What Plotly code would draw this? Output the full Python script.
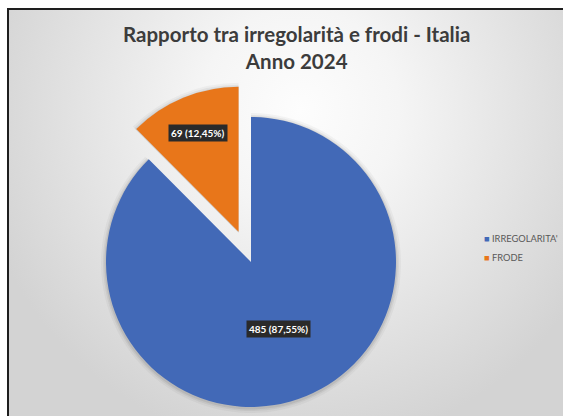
import math
import plotly.graph_objects as go

# ---- data ----
labels = ["IRREGOLARITA'", "FRODE"]
values = [485, 69]
percent_text = ["87,55%", "12,45%"]
colors = ["#4269B7", "#E8761A"]
title_lines = ["Rapporto tra irregolarità e frodi - Italia", "Anno 2024"]

W, H = 563, 416
pull = 0.225          # explode fraction of the FRODE slice
cx, cy, r = 251, 262, 145   # pie centre / radius in pixels (from top-left)

total = sum(values)
frac_frode = values[1] / total
bis = math.radians(360 * frac_frode / 2)   # half-angle of FRODE slice (left of 12 o'clock)

# exploded centre of FRODE slice along its bisector
ocx = cx - pull * r * math.sin(bis)
ocy = cy - pull * r * math.cos(bis)


def dom(cxp, cyp, rr=r):
    return dict(x=[(cxp - rr) / W, (cxp + rr) / W],
                y=[(H - cyp - rr) / H, (H - cyp + rr) / H])


fig = go.Figure()

# background gradient panel
fig.add_trace(go.Scatter(
    x=[-30, 630, 630, -30, -30], y=[-230, -230, 450, 450, -230],
    mode="none", fill="toself",
    fillgradient=dict(type="radial",
                      colorscale=[[0, "#fdfdfd"], [0.3, "#f5f5f5"], [1, "#d3d3d3"]]),
    hoverinfo="skip", showlegend=False))

# soft shadow halos
for extra, alpha in [(5, 0.035), (3, 0.05), (1.5, 0.07)]:
    fig.add_trace(go.Pie(
        labels=labels, values=values, sort=False, direction="clockwise", rotation=0,
        marker=dict(colors=[f"rgba(0,0,0,{alpha})", "rgba(0,0,0,0)"], line=dict(width=0)),
        textinfo="none", hoverinfo="skip", showlegend=False, domain=dom(cx, cy + 1, r + extra)))
    fig.add_trace(go.Pie(
        labels=labels, values=values, sort=False, direction="clockwise", rotation=0,
        marker=dict(colors=["rgba(0,0,0,0)", f"rgba(0,0,0,{alpha})"], line=dict(width=0)),
        textinfo="none", hoverinfo="skip", showlegend=False, domain=dom(ocx, ocy + 1, r + extra)))

# main pie (IRREGOLARITA')
fig.add_trace(go.Pie(
    labels=labels, values=values, sort=False, direction="clockwise", rotation=0,
    marker=dict(colors=[colors[0], "rgba(0,0,0,0)"], line=dict(width=0)),
    textinfo="none", hoverinfo="skip", showlegend=False, domain=dom(cx, cy)))

# exploded slice (FRODE)
fig.add_trace(go.Pie(
    labels=labels, values=values, sort=False, direction="clockwise", rotation=0,
    marker=dict(colors=["rgba(0,0,0,0)", colors[1]], line=dict(width=0)),
    textinfo="none", hoverinfo="skip", showlegend=False, domain=dom(ocx, ocy)))

# legend entries
for lab, col in zip(labels, colors):
    fig.add_trace(go.Scatter(
        x=[None], y=[None], mode="markers",
        marker=dict(size=1, color="rgba(0,0,0,0)"),
        name=f'<span style="color:{col}">■</span> {lab}', showlegend=True))

# data labels
ann = []
b_ang = math.radians(360 * (values[0] / total) / 2)
lx = cx + 0.5 * r * math.sin(b_ang)
ly = cy - 0.5 * r * math.cos(b_ang)
ann.append((lx, ly, f"{values[0]} ({percent_text[0]})"))
lx2 = ocx - 0.74 * r * math.sin(bis)
ly2 = ocy - 0.74 * r * math.cos(bis)
ann.append((lx2, ly2, f"{values[1]} ({percent_text[1]})"))

for x, y, t in ann:
    fig.add_annotation(x=x / W, y=1 - y / H, xref="paper", yref="paper",
                       xanchor="center", yanchor="middle",
                       text=f"<b>{t}</b>", showarrow=False,
                       font=dict(family="Lato", size=10, color="white"),
                       bgcolor="#2a2a2a", borderpad=2)

fig.update_layout(
    width=W, height=H, margin=dict(l=0, r=0, t=0, b=0, autoexpand=False),
    paper_bgcolor="white", plot_bgcolor="rgba(0,0,0,0)",
    title=dict(text="<b>" + title_lines[0] + "<br>" + title_lines[1] + "</b>",
               x=0.527, xanchor="center", y=1 - 42 / H, yanchor="middle",
               yref="container",
               font=dict(family="Lato", size=20.5, color="#3c3c3c")),
    xaxis=dict(domain=[9 / W, 1], range=[9, W], visible=True, showgrid=False,
               zeroline=False, showticklabels=False, ticks="", side="top",
               showline=True, linecolor="#1e1e1e", linewidth=2, fixedrange=True),
    yaxis=dict(domain=[0, 1 - 10 / H], range=[H, 10], showgrid=False,
               zeroline=False, showticklabels=False, ticks="",
               showline=True, linecolor="#1e1e1e", linewidth=2, fixedrange=True),
    legend=dict(x=1, xanchor="right", y=1 - 224 / H, yanchor="top",
                bgcolor="rgba(0,0,0,0)", itemwidth=30, tracegroupgap=0,
                font=dict(family="Lato", size=9.3, color="#595959")),
    showlegend=True,
)

fig.write_html("out.html", config={"displayModeBar": False},
               post_script="document.body.style.margin='0';"
                           "document.body.style.overflow='hidden';")
